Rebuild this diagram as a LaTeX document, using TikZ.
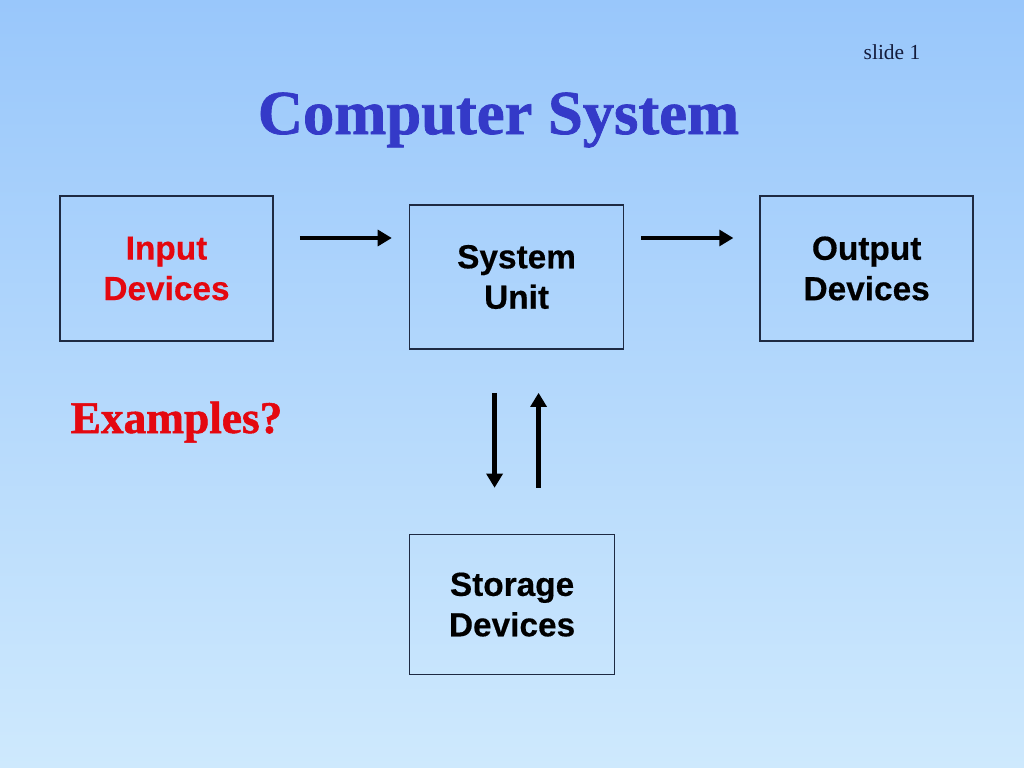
\documentclass[tikz,border=0pt]{standalone}
\usepackage{fontspec}
\setmainfont{Liberation Serif}
\setsansfont{Liberation Sans}[BoldFeatures={FakeBold=0.4}]
\newfontfamily\headfont{Liberation Serif}[BoldFeatures={FakeBold=1.2}]
\usetikzlibrary{positioning,arrows.meta}
\definecolor{bgtop}{RGB}{153,199,251}
\definecolor{bgbot}{RGB}{206,233,253}
\definecolor{titleblue}{RGB}{52,58,200}
\definecolor{slidered}{RGB}{228,8,16}
\definecolor{boxline}{RGB}{30,42,66}
\definecolor{slidenavy}{RGB}{20,28,60}
\tikzset{
block/.style={
draw=boxline,
line width=0.45pt,
minimum width=2.13cm,minimum height=1.45cm,align=center,
font={\sffamily\bfseries\fontsize{9.5pt}{11.5pt}\selectfont}},
line/.style={-{Triangle[length=4pt,width=4.5pt]},line width=1.2pt}
}

\begin{document}
\begin{tikzpicture}
  \shade[top color=bgtop,bottom color=bgbot] (0,0) rectangle (10.24,-7.68);
  \useasboundingbox (0,0) rectangle (10.24,-7.68);
  \node[anchor=base east,text=slidenavy,font={\fontsize{6.1pt}{7pt}\selectfont},inner sep=0pt] (slide) at (9.21,-0.60) {slide 1};
  \node[anchor=base,text=titleblue,font={\headfont\bfseries\fontsize{17.8pt}{20pt}\selectfont},inner sep=0pt] (title) at (4.985,-1.34) {Computer System};
  \node[block, text=slidered] (in) at (1.665,-2.685) {Input\\Devices};
  \node[block, right=1.35cm of in, yshift=-0.085cm, minimum width=2.14cm, minimum height=1.44cm] (sys) {System\\Unit};
  \node[block, right=1.35cm of sys, yshift=0.085cm] (out) {Output\\Devices};
  \node[block, below=1.84cm of sys, xshift=-0.045cm, minimum width=2.05cm, minimum height=1.40cm] (sto) {Storage\\Devices};
  \node[anchor=base west,text=slidered,font={\headfont\bfseries\fontsize{12.9pt}{15pt}\selectfont},inner sep=0pt] (ex) at (0.70,-4.33) {Examples?};
  \draw[line] ([xshift=0.26cm, yshift=0.305cm] in.east)-- ([xshift=-0.17cm, yshift=0.305cm] in.east -| sys.west);
  \draw[line] ([xshift=0.17cm, yshift=0.39cm] sys.east)-- ([xshift=-0.26cm, yshift=0.39cm] sys.east -| out.west);
  \draw[line] ([xshift=-0.22cm, yshift=-0.43cm] sys.south)-- ([xshift=-0.22cm, yshift=0.46cm] sys.south |- sto.north);
  \draw[line] ([xshift=0.22cm, yshift=0.46cm] sys.south |- sto.north)-- ([xshift=0.22cm, yshift=-0.43cm] sys.south);
\end{tikzpicture}
\end{document}
